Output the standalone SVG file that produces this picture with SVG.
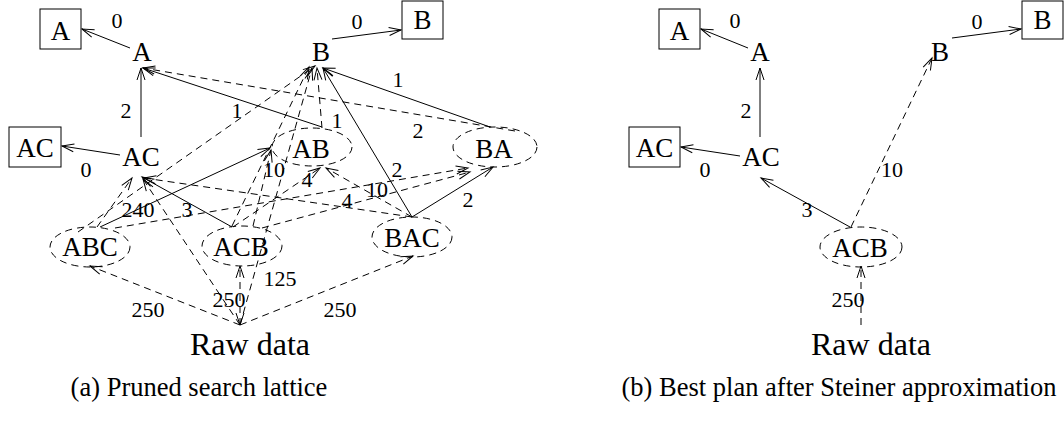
<svg xmlns="http://www.w3.org/2000/svg" width="1064" height="425" viewBox="0 0 1064 425">
<style>
text{font-family:"Liberation Serif","Times New Roman",serif;fill:#000;text-anchor:middle}
.n{font-size:27px}
.l{font-size:22px}
.r{font-size:32px}
.c{font-size:26.5px}
.box{fill:#fff;stroke:#000;stroke-width:1}
.el{fill:none;stroke:#000;stroke-width:1;stroke-dasharray:7 5}
.s{fill:none;stroke:#000;stroke-width:1;marker-end:url(#ar)}
.d{fill:none;stroke:#000;stroke-width:1;stroke-dasharray:7 5;marker-end:url(#ar)}
</style>
<defs>
<marker id="ar" markerUnits="userSpaceOnUse" markerWidth="16" markerHeight="12" viewBox="-13 -6 16 12" refX="0" refY="0" orient="auto" overflow="visible">
<path d="M-12,-4 L0,0 L-12,4" fill="none" stroke="#000" stroke-width="1"/>
</marker>
<marker id="ars" markerUnits="userSpaceOnUse" markerWidth="16" markerHeight="12" viewBox="-13 -6 16 12" refX="0" refY="0" orient="auto-start-reverse" overflow="visible">
<path d="M-12,-4 L0,0 L-12,4" fill="none" stroke="#000" stroke-width="1"/>
</marker>
</defs>
<rect width="1064" height="425" fill="#fff"/>
<g id="connectors">
<path class="s" d="M130,48 L82,29"/>
<path class="s" d="M332,39 L401,30"/>
<path class="s" d="M141,137 L141,68"/>
<path class="s" d="M120,155 L62,146"/>
<path class="s" d="M322,127 L143,68"/>
<path class="s" d="M490,127 L323,68"/>
<path class="s" d="M412,217 L323,68"/>
<path class="s" d="M412,217 L493,167"/>
<path class="s" d="M100,227 L270,148"/>
<path class="s" d="M232,227 L142,177"/>
<path class="d" d="M515,131 L143,68"/>
<path class="d" d="M78,232 L315,66"/>
<path class="d" d="M97,227 L132,178"/>
<path class="d" d="M115,228 L468,168"/>
<path class="d" d="M253,226 L271,150"/>
<path class="d" d="M232,226 L309,67"/>
<path class="d" d="M233,227 L320,168"/>
<path class="d" d="M262,228 L470,172"/>
<path class="d" d="M412,217 L144,178"/>
<path class="d" d="M412,217 L326,168"/>
<path class="d" d="M322,128 L317,68"/>
<path class="d" d="M240,325 L143,179"/>
<path class="d" d="M240,325 L90,266"/>
<path class="d" d="M240,325 L240,266" style="marker-start:url(#ars)"/>
<path class="d" d="M240,325 L312,68"/>
<path class="d" d="M240,325 L413,256"/>
<path class="s" d="M748,48 L701,29"/>
<path class="s" d="M760,137 L760,68"/>
<path class="s" d="M740,156 L681,147"/>
<path class="s" d="M952,38 L1021,29"/>
<path class="s" d="M850,227 L761,178"/>
<path class="d" d="M851,227 L932,58"/>
<path class="d" d="M861,325 L861,266"/>
</g>
<g id="labels">
<text class="l" x="117" y="28">0</text>
<text class="l" x="357" y="29">0</text>
<text class="l" x="126" y="118">2</text>
<text class="l" x="237" y="118">1</text>
<text class="l" x="337" y="128">1</text>
<text class="l" x="398" y="87">1</text>
<text class="l" x="418" y="138">2</text>
<text class="l" x="86" y="177">0</text>
<text class="l" x="274" y="177">10</text>
<text class="l" x="307" y="187">4</text>
<text class="l" x="397" y="177">2</text>
<text class="l" x="377" y="197">10</text>
<text class="l" x="347" y="208">4</text>
<text class="l" x="138" y="217">240</text>
<text class="l" x="187" y="217">3</text>
<text class="l" x="468" y="207">2</text>
<text class="l" x="148" y="317">250</text>
<text class="l" x="229" y="307">250</text>
<text class="l" x="280" y="286">125</text>
<text class="l" x="340" y="317">250</text>
<text class="l" x="735" y="28">0</text>
<text class="l" x="746" y="118">2</text>
<text class="l" x="705" y="177">0</text>
<text class="l" x="977" y="29">0</text>
<text class="l" x="892" y="177">10</text>
<text class="l" x="807" y="217">3</text>
<text class="l" x="848" y="307">250</text>
</g>
<g id="a-boxA"><rect class="box" x="40" y="9" width="41" height="40"/><text class="n" x="60.5" y="40">A</text></g>
<g id="a-A"><text class="n" x="142" y="61">A</text></g>
<g id="a-boxB"><rect class="box" x="402" y="1" width="41" height="38"/><text class="n" x="422.5" y="29">B</text></g>
<g id="a-B"><text class="n" x="321" y="61">B</text></g>
<g id="a-boxAC"><rect class="box" x="9" y="127" width="52" height="40"/><text class="n" x="35" y="157">AC</text></g>
<g id="a-AC"><text class="n" x="141" y="166">AC</text></g>
<g id="a-AB"><ellipse class="el" cx="312" cy="147" rx="40" ry="19"/><text class="n" x="311" y="158">AB</text></g>
<g id="a-BA"><ellipse class="el" cx="495" cy="147" rx="42" ry="20"/><text class="n" x="494" y="158">BA</text></g>
<g id="a-ABC"><ellipse class="el" cx="90" cy="247" rx="40" ry="20"/><text class="n" x="90" y="256">ABC</text></g>
<g id="a-ACB"><ellipse class="el" cx="242" cy="246" rx="40" ry="20"/><text class="n" x="241" y="256">ACB</text></g>
<g id="a-BAC"><ellipse class="el" cx="412" cy="237" rx="40" ry="20"/><text class="n" x="412" y="247">BAC</text></g>
<g id="a-raw"><text class="r" x="250" y="355">Raw data</text></g>
<g id="b-boxA"><rect class="box" x="659" y="9" width="41" height="40"/><text class="n" x="679.5" y="40">A</text></g>
<g id="b-A"><text class="n" x="760" y="61">A</text></g>
<g id="b-boxAC"><rect class="box" x="629" y="127" width="51" height="40"/><text class="n" x="654.5" y="157">AC</text></g>
<g id="b-AC"><text class="n" x="761" y="166">AC</text></g>
<g id="b-B"><text class="n" x="940" y="61">B</text></g>
<g id="b-boxB"><rect class="box" x="1022" y="1" width="41" height="38"/><text class="n" x="1042.5" y="29">B</text></g>
<g id="b-ACB"><ellipse class="el" cx="861" cy="247" rx="41" ry="20"/><text class="n" x="860" y="257">ACB</text></g>
<g id="b-raw"><text class="r" x="871" y="355">Raw data</text></g>
<g id="captions">
<text class="c" x="199" y="396">(a) Pruned search lattice</text>
<text class="c" x="839" y="396">(b) Best plan after Steiner approximation</text>
</g>
</svg>
